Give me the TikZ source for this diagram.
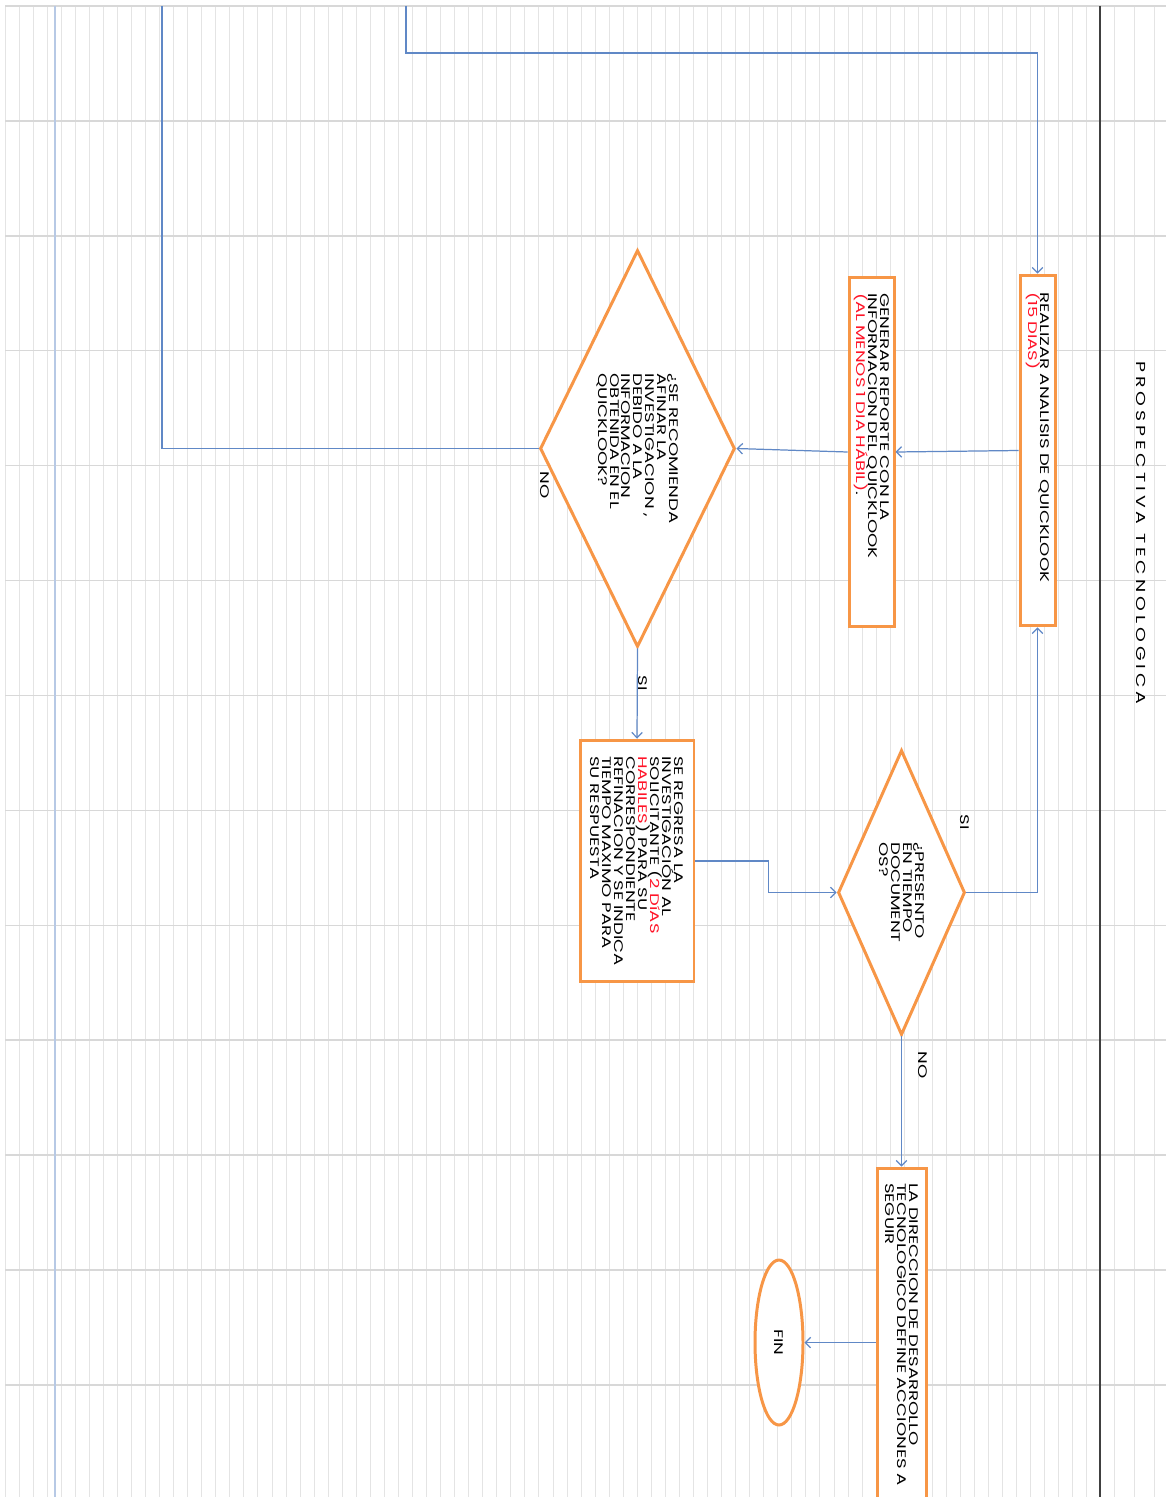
\documentclass[tikz,border=0pt]{standalone}
\usepackage{fontspec}
\setmainfont{Poppins}
\newfontfamily\widefont[FakeStretch=1.45]{Poppins}
\newfontfamily\titlefont[FakeStretch=1.45,LetterSpace=30]{Poppins}
\usetikzlibrary{shapes.geometric,arrows.meta}
\definecolor{lineorange}{RGB}{247,150,70}
\definecolor{linkblue}{RGB}{96,136,198}
\definecolor{gridgray}{RGB}{228,228,228}
\definecolor{redtxt}{RGB}{255,20,40}
\newcommand{\rt}[1]{\textcolor{redtxt}{#1}}
\newcommand{\boxfont}{\widefont\fontsize{7.1}{6.8}\selectfont\lineskiplimit-20pt\relax}
\begin{document}
\begin{tikzpicture}[x=0.02cm,y=-0.02cm,
  >={Straight Barb[length=3pt,width=6pt]},
  txt/.style={font=\boxfont},
  procbox/.style={draw=lineorange,line width=1.7pt,fill=white,rotate=-90,txt,align=left,inner sep=0pt},
  decbox/.style={diamond,shape aspect=2,draw=lineorange,line width=1.7pt,fill=white,rotate=-90,txt,align=left,inner sep=0pt},
  endbox/.style={ellipse,draw=lineorange,line width=1.7pt,fill=white,rotate=-90,txt,inner sep=0pt},
  link/.style={draw=linkblue,line width=0.7pt},
  lbl/.style={rotate=-90,txt,inner sep=0pt}]

\useasboundingbox (0,0) rectangle (1166,1497);
\clip (0,0) rectangle (1166,1497);
\fill[white] (0,0) rectangle (1166,1497);

\foreach \i in {0,...,77} \draw[gridgray,line width=0.5pt] ({5+14.05*\i},6) -- ({5+14.05*\i},1497);
\foreach \xg in {1114,1134,1154} \draw[gridgray,line width=0.5pt] (\xg,6) -- (\xg,1497);
\foreach \j in {0,...,12} \draw[gridgray!95!black,line width=0.8pt] (5,{6+114.9*\j}) -- (1166,{6+114.9*\j});

\draw[linkblue!45,line width=1.2pt] (55,6) -- (55,1497);
\draw[black!75,line width=0.8pt] (1100,6) -- (1100,1497);

\node[lbl,font=\titlefont\fontsize{7.4}{9}\selectfont] (title) at (1141,533) {PROSPECTIVA TECNOLOGICA};

\node[procbox,minimum width=7.02cm,minimum height=0.7cm,text width=6.34cm] (analisis) at (1037.5,450.5) {REALIZAR ANALISIS DE QUICKLOOK\\\rt{(15 DIAS)}};

\node[procbox,minimum width=7.0cm,minimum height=0.9cm,text width=6.36cm] (reporte) at (871.5,452) {GENERAR REPORTE CON LA\\INFORMACION DEL QUICKLOOK\\\rt{(AL MENOS 1 DIA HÁBIL)}.};

\node[decbox,minimum width=7.94cm,minimum height=3.9cm] (afinar) at (637.5,448.5) {¿SE RECOMIENDA\\AFINAR LA\\INVESTIGACION ,\\DEBIDO A LA\\INFORMACION\\OBTENIDA EN EL\\QUICKLOOK?};

\node[procbox,minimum width=4.84cm,minimum height=2.28cm] (regresa) at (637,861) {SE REGRESA LA\\INVESTIGACIÓN AL\\SOLICITANTE (\rt{2 DíAS}\\\rt{HABILES}) PARA SU\\CORRESPONDIENTE\\REFINACION Y SE INDICA\\TIEMPO MAXIMO PARA\\SU RESPUESTA};

\node[decbox,minimum width=5.7cm,minimum height=2.54cm] (presento) at (901.5,892.5) {¿PRESENTO\\EN TIEMPO\\DOCUMENT\\OS?};

\node[procbox,minimum width=8.4cm,minimum height=0.98cm,text width=7.8cm] (direccion) at (901.5,1378) {LA DIRECCION DE DESARROLLO\\TECNOLOGICO DEFINE ACCIONES A\\SEGUIR};

\node[endbox,minimum width=3.3cm,minimum height=0.96cm] (fin) at (779,1342.5) {FIN};

\node[lbl] (noafinar) at (545,485) {NO};
\node[lbl] (siafinar) at (643,683) {SI};
\node[lbl] (sipresento) at (965,822) {SI};
\node[lbl] (nopresento) at (923,1065) {NO};

\coordinate (topa) at (406,6);
\coordinate (topb) at (162,6);

\draw[link,->] (topa) -- (406,53) -| (analisis.west);
\draw[link,->] (analisis.south) -- (reporte.north);
\draw[link,->] (reporte.south) -- (afinar.north);
\draw[link] (afinar.south) -| (topb);
\draw[link,->] (afinar.east) -- (regresa.west);
\draw[link,->] (regresa.north) -- ++(73,0) |- (presento.south);
\draw[link,->] (presento.north) -| (analisis.east);
\draw[link,->] (presento.east) -- (direccion.west);
\draw[link,->] (fin.north -| direccion.south) -- (fin.north);

\end{tikzpicture}
\end{document}
